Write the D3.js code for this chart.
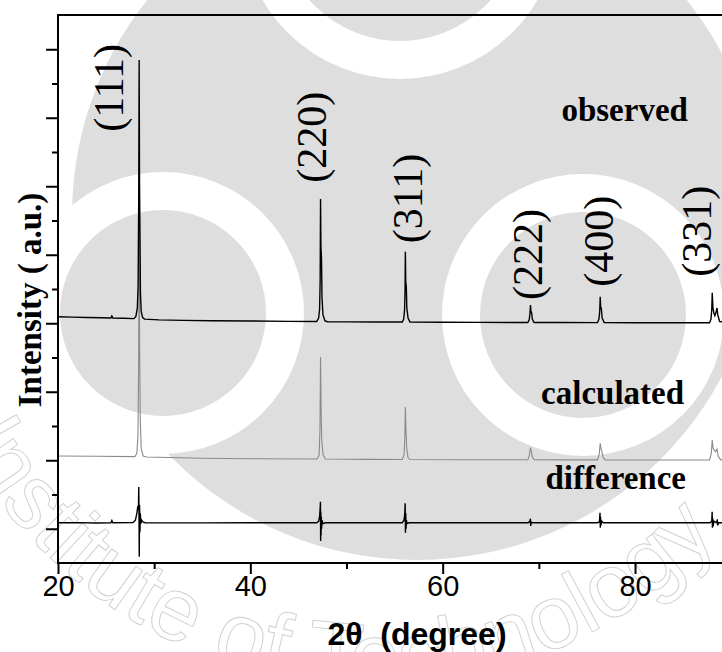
<!DOCTYPE html>
<html lang="en">
<head>
  <meta charset="UTF-8">
  <title>XRD refinement</title>
  <script src="https://d3js.org/d3.v7.min.js"></script>
  <style>
    body { margin: 0; padding: 0; background: #fff; }
    svg { display: block; }
  </style>
</head>
<body>
  <div id="chart"></div>
  <script>
    // Bragg reflections and where their labels sit (2theta, intensity)
    const hkl = ["(111)", "(220)", "(311)", "(222)", "(400)", "(331)"];
    const hklLabelAt = [[26.74, 23180], [47.85, 20200], [57.85, 16670], [70.3, 13360], [77.75, 14130], [87.95, 14720]];

    const seriesNames = ["observed", "calculated", "difference"];
    const seriesLabelAt = [[85.5, 23800], [85.1, 7270], [85.3, 2300]];

    const xTicks = [20, 40, 60, 80];

    // profiles: [2theta, counts]
    const observed = [
      [20.0, 12380], [21.5, 12360], [23.0, 12340], [24.5, 12320], [25.5, 12310], [25.6, 12420], [25.7, 12310],
      [26.8, 12290], [27.9, 12270], [28.1, 12400], [28.25, 12900], [28.33, 14200], [28.39, 19000], [28.44, 27370],
      [28.48, 20000], [28.52, 17500], [28.57, 13800], [28.65, 12700], [28.8, 12330], [29.0, 12240],
      [30.5, 12200], [33, 12170], [36, 12150], [40, 12130], [44, 12110], [46.9, 12100],
      [47.1, 12300], [47.2, 12800], [47.26, 14500], [47.30, 19254], [47.34, 16470], [47.40, 15800], [47.45, 13500],
      [47.55, 12500], [47.75, 12150], [48.0, 12090], [50, 12080], [53, 12070], [55.8, 12070],
      [55.95, 12250], [56.04, 12800], [56.09, 14000], [56.12, 16177], [56.16, 14425], [56.22, 14100], [56.27, 12900],
      [56.4, 12300], [56.6, 12070], [60, 12060], [64, 12050], [68.85, 12045],
      [69.0, 12200], [69.08, 12600], [69.13, 13065], [69.18, 12700], [69.25, 12600], [69.32, 12250], [69.5, 12045],
      [72, 12040], [76.1, 12035], [76.25, 12250], [76.33, 12700], [76.38, 13549], [76.43, 12950], [76.5, 12850],
      [76.58, 12300], [76.8, 12035], [80, 12030], [84, 12030], [87.75, 12030],
      [87.9, 12250], [87.98, 12800], [88.03, 13783], [88.1, 12900], [88.2, 12600], [88.3, 12450], [88.45, 12700],
      [88.53, 12890], [88.6, 12500], [88.8, 12100], [90, 12030]
    ];

    const calculated = [
      [20, 4250], [24, 4230], [28.0, 4210], [28.2, 4400], [28.32, 5500], [28.39, 10000], [28.44, 18260], [28.49, 10500],
      [28.55, 6500], [28.65, 4700], [28.85, 4250], [29.2, 4190], [35, 4120], [40, 4090], [46.95, 4070],
      [47.15, 4300], [47.24, 5800], [47.30, 10029], [47.36, 7000], [47.42, 5200], [47.55, 4350], [47.8, 4070],
      [52, 4050], [55.8, 4045], [55.98, 4300], [56.06, 5200], [56.12, 7109], [56.18, 5800], [56.26, 4700],
      [56.4, 4150], [56.6, 4040], [62, 4030], [68.85, 4025], [69.0, 4250], [69.13, 4733], [69.22, 4500],
      [69.32, 4200], [69.5, 4025], [73, 4020], [76.1, 4020], [76.28, 4350], [76.38, 4987], [76.47, 4650],
      [76.55, 4550], [76.68, 4150], [76.9, 4020], [82, 4015], [87.75, 4015], [87.93, 4400], [88.03, 5182],
      [88.12, 4700], [88.22, 4600], [88.38, 4500], [88.53, 4650], [88.65, 4250], [88.9, 4020], [90, 4015]
    ];

    const difference = [
      [20, 350], [22, 360], [24, 340], [25.5, 350], [25.6, 480], [25.7, 350], [27.8, 360], [28.05, 500],
      [28.2, 900], [28.3, 1330], [28.36, 1100], [28.40, 2438], [28.43, 300], [28.45, -1632], [28.48, 1400],
      [28.52, -200], [28.56, 900], [28.62, 300], [28.7, 500], [28.85, 380], [29.1, 350], [35, 345], [40, 350],
      [46.9, 350], [47.1, 430], [47.2, 700], [47.26, 1200], [47.29, 1580], [47.31, -715], [47.33, 1000],
      [47.35, -400], [47.38, 700], [47.41, 0], [47.45, 500], [47.55, 300], [47.8, 350], [52, 350], [55.8, 350],
      [55.98, 500], [56.06, 900], [56.1, 1486], [56.13, -230], [56.16, 900], [56.19, 0], [56.23, 500], [56.3, 300],
      [56.5, 350], [62, 350], [68.9, 350], [69.08, 450], [69.12, 587], [69.15, 160], [69.2, 400], [69.35, 350],
      [73, 350], [76.1, 350], [76.3, 400], [76.36, 937], [76.39, 61], [76.42, 700], [76.46, 200], [76.52, 450],
      [76.7, 350], [82, 350], [87.8, 350], [87.98, 450], [88.02, 996], [88.05, 61], [88.09, 600], [88.13, 150],
      [88.2, 450], [88.5, 350], [88.55, 550], [88.6, 200], [88.7, 350], [90, 350]
    ];

    const width = 722, height = 652;
    const margin = { top: 15, left: 58, bottom: 89 };

    const svg = d3.select("#chart").append("svg")
      .attr("width", width)
      .attr("height", height);

    svg.append("rect").attr("width", width).attr("height", height).attr("fill", "#fff");

    // faint background watermark
    const wm = svg.append("g").attr("class", "watermark");
    const wmGray = "#dedede";
    wm.append("circle").attr("cx", 417).attr("cy", 215).attr("r", 345).attr("fill", wmGray);
    [[400, -80], [163, 313], [583, 315]].forEach(([cx, cy], i) => {
      wm.append("circle").attr("cx", cx).attr("cy", cy).attr("r", i === 0 ? 140 : 122)
        .attr("fill", wmGray).attr("stroke", "#fff").attr("stroke-width", 38);
    });
    wm.append("path").attr("id", "wm-arc")
      .attr("d", "M -90 297 A 470 470 0 0 0 836 297")
      .attr("fill", "none");
    wm.append("text")
      .style("font-family", "'Liberation Sans', Arial, sans-serif")
      .style("font-size", "90px")
      .attr("fill", "none").attr("stroke", "#d2d2d2").attr("stroke-width", 1)
      .append("textPath").attr("href", "#wm-arc").attr("startOffset", 150)
      .text("Institute of Technology");

    const x = d3.scaleLinear().domain([20, 90]).range([margin.left, margin.left + 70 * 9.617]);
    const y = d3.scaleLinear().domain([-2000, 30000]).range([height - margin.bottom, margin.top]);

    svg.append("clipPath").attr("id", "plot-clip")
      .append("rect").attr("x", x(20)).attr("y", y(30000)).attr("width", x(90) - x(20)).attr("height", y(-2000) - y(30000));

    const line = d3.line().x(d => x(d[0])).y(d => y(d[1]));

    const plot = svg.append("g").attr("clip-path", "url(#plot-clip)");
    plot.append("path").datum(calculated)
      .attr("d", line).attr("fill", "none").attr("stroke", "#8a8a8a").attr("stroke-width", 1.1);
    plot.append("path").datum(observed)
      .attr("d", line).attr("fill", "none").attr("stroke", "#000").attr("stroke-width", 1.4);
    plot.append("path").datum(difference)
      .attr("d", line).attr("fill", "none").attr("stroke", "#000").attr("stroke-width", 1.4);

    // axes
    const xAxis = d3.axisBottom(x).tickValues(xTicks).tickSize(11).tickPadding(3).tickFormat(d3.format("d"));
    const xMinor = d3.axisBottom(x).tickValues([30, 50, 70]).tickSize(6).tickFormat("");
    const yAxis = d3.axisLeft(y).tickValues(d3.range(0, 30000, 4000)).tickSize(12).tickFormat("");
    const yMinor = d3.axisLeft(y).tickValues(d3.range(2000, 30000, 4000)).tickSize(6).tickFormat("");

    const gx = svg.append("g").attr("transform", `translate(0,${y(-2000)})`).call(xAxis);
    svg.append("g").attr("transform", `translate(0,${y(-2000)})`).call(xMinor);
    svg.append("g").attr("transform", `translate(${x(20)},0)`).call(yAxis);
    svg.append("g").attr("transform", `translate(${x(20)},0)`).call(yMinor);

    svg.selectAll(".domain").remove();
    svg.selectAll(".tick line").attr("stroke", "#000").attr("stroke-width", 2);
    gx.selectAll(".tick text")
      .attr("fill", "#000")
      .style("font-family", "'Liberation Sans', Arial, sans-serif")
      .style("font-size", "29px")
      .attr("dy", null).attr("y", 33);

    // frame (left, top, bottom)
    svg.append("path")
      .attr("d", `M${x(90)},${y(30000)} H${x(20)} V${y(-2000)} H${x(90)}`)
      .attr("fill", "none").attr("stroke", "#000").attr("stroke-width", 2);

    // reflection labels
    svg.append("g").selectAll("text").data(hkl).join("text")
      .attr("transform", (d, i) => `translate(${x(hklLabelAt[i][0])},${y(hklLabelAt[i][1])}) rotate(-90)`)
      .style("font-family", "'Liberation Serif', 'Times New Roman', serif")
      .style("font-size", "42px")
      .attr("fill", "#000")
      .text(d => d);

    // series labels
    svg.append("g").selectAll("text").data(seriesNames).join("text")
      .attr("x", (d, i) => x(seriesLabelAt[i][0]))
      .attr("y", (d, i) => y(seriesLabelAt[i][1]))
      .attr("text-anchor", "end")
      .style("font-family", "'Liberation Serif', 'Times New Roman', serif")
      .style("font-weight", "bold")
      .style("font-size", "33px")
      .attr("fill", "#000")
      .text(d => d);

    // axis titles
    svg.append("text")
      .attr("transform", `translate(41,300) rotate(-90)`)
      .attr("text-anchor", "middle")
      .style("font-family", "'Liberation Serif', 'Times New Roman', serif")
      .style("font-weight", "bold")
      .style("font-size", "33px")
      .style("white-space", "pre")
      .text("Intensity ( a.u.)");

    svg.append("text")
      .attr("x", 417).attr("y", 645)
      .attr("text-anchor", "middle")
      .style("font-family", "'Liberation Sans', Arial, sans-serif")
      .style("font-weight", "bold")
      .style("font-size", "32px")
      .style("white-space", "pre")
      .text("2θ  (degree)");
  </script>
</body>
</html>
